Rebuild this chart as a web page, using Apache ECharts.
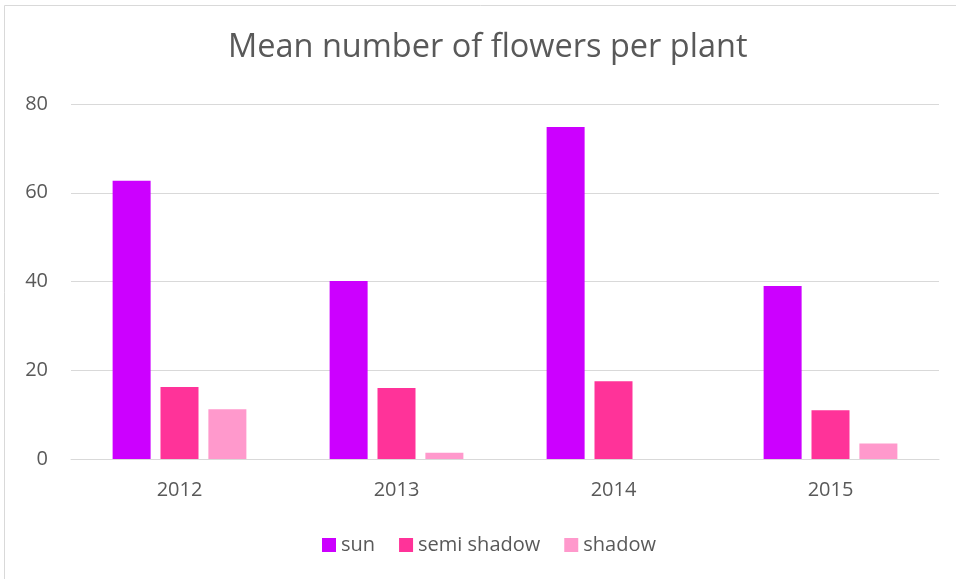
<!DOCTYPE html>
<html><head><meta charset="utf-8">
<script src="https://cdn.jsdelivr.net/npm/echarts@6/dist/echarts.min.js"></script>
<style>html,body{margin:0;padding:0;background:#fff;}#c{width:956px;height:579px;}</style>
</head><body><div id="c"></div>
<script>
var categories = ['2012', '2013', '2014', '2015'];
var sun = [62.7, 40.1, 74.8, 39.0];
var semiShadow = [16.2, 16.0, 17.5, 11.0];
var shadow = [11.2, 1.4, 0, 3.5];
var seriesNames = ['sun', 'semi shadow', 'shadow'];
var colors = ['#CC00FF', '#FF3399', '#FF99CC'];
var font = '"Open Sans", "Noto Sans", sans-serif';
var chart = echarts.init(document.getElementById('c'));
chart.setOption({
  animation: false,
  color: colors,
  graphic: [{type: 'rect', shape: {x: 4.5, y: 5.5, width: 960, height: 600}, style: {fill: 'none', stroke: '#D9D9D9', lineWidth: 1}, z: -1}],
  title: {text: 'Mean number of flowers per plant', left: 223, top: 26,
    textStyle: {fontFamily: font, fontSize: 32.5, fontWeight: 'normal', color: '#595959'}},
  legend: {top: 530, left: 317, itemWidth: 14, itemHeight: 14, itemGap: 24, icon: 'rect',
    textStyle: {fontFamily: font, fontSize: 20, color: '#595959'},
    data: seriesNames},
  grid: {left: 71, right: 17, top: 104, bottom: 120, containLabel: false},
  xAxis: {type: 'category', data: categories,
    axisLine: {lineStyle: {color: '#D9D9D9', width: 1}}, axisTick: {show: false},
    axisLabel: {fontFamily: font, fontSize: 20, color: '#595959', margin: 21}},
  yAxis: {type: 'value', min: 0, max: 80, interval: 20,
    axisLine: {show: false}, axisTick: {show: false},
    splitLine: {lineStyle: {color: '#D9D9D9', width: 1}},
    axisLabel: {fontFamily: font, fontSize: 20, color: '#595959', margin: 23}},
  series: [
    {name: seriesNames[0], type: 'bar', data: sun, barWidth: 38, barGap: '26%'},
    {name: seriesNames[1], type: 'bar', data: semiShadow, barWidth: 38, barGap: '26%'},
    {name: seriesNames[2], type: 'bar', data: shadow, barWidth: 38, barGap: '26%'}
  ]
});
</script></body></html>
